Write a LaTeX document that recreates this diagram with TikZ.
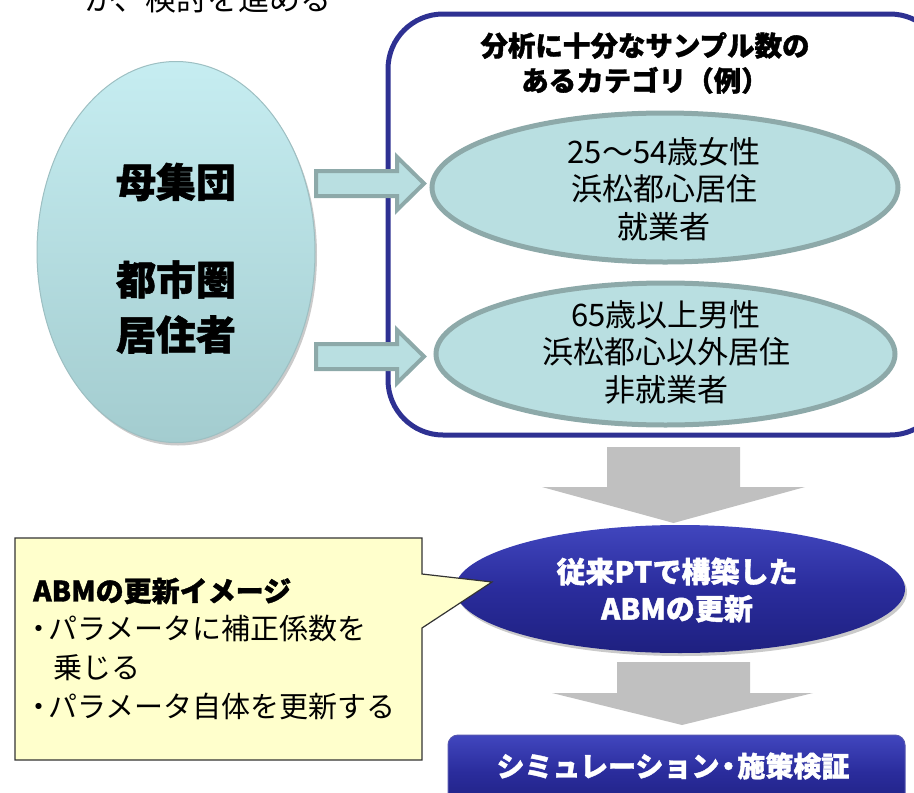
\documentclass[tikz,border=0pt]{standalone}
\usepackage{fontspec}
\setmainfont{Noto Sans CJK JP}[BoldFont={Noto Sans CJK JP Black}, BoldFeatures={FakeBold=1.3}]
\usetikzlibrary{shapes.geometric,shadows}
\definecolor{tealfill}{HTML}{B9DFE1}
\definecolor{tealline}{HTML}{8DA9A9}
\definecolor{popTop}{HTML}{C6EDF1}
\definecolor{popBot}{HTML}{A3CCCF}
\definecolor{popEdge}{HTML}{9DBFC2}
\definecolor{frameblue}{HTML}{2E3192}
\definecolor{arrowgrey}{HTML}{C0C0C0}
\definecolor{calloutfill}{HTML}{FFFFCC}
\definecolor{calloutline}{HTML}{333333}
\definecolor{blueTop}{HTML}{4146BE}
\definecolor{blueMid}{HTML}{2A2C9C}
\definecolor{blueBot}{HTML}{1E2080}
\newcommand{\nd}{\makebox[18pt][c]{・}}
\tikzset{
  catell/.style={ellipse, inner sep=0pt, fill=tealfill, draw=tealline, line width=5pt},
  blockarrow/.style={fill=tealfill, draw=tealline, line width=4pt, line join=miter},
  downarrow/.style={fill=arrowgrey, draw=none},
  bigbold/.style={font=\fontsize{40}{55}\selectfont\bfseries, align=center, inner sep=0pt},
  cattext/.style={font=\fontsize{31}{37.5}\selectfont, align=center, inner sep=0pt},
  titletext/.style={font=\fontsize{27.5}{35}\selectfont\bfseries, align=center, inner sep=0pt},
  whitebold/.style={font=\fontsize{29}{37}\selectfont\bfseries, text=white, align=center, inner sep=0pt},
  calltext/.style={font=\fontsize{29}{34}\selectfont, anchor=west, inner sep=0pt},
  softshadow/.style={drop shadow={opacity=0.35, shadow xshift=2pt, shadow yshift=-3pt, fill=black!60}},
}
\begin{document}
\begin{tikzpicture}[x=1pt,y=-1pt]
\useasboundingbox (0,0) rectangle (914,793);

% cut-off top text
\node[anchor=base, font=\fontsize{31}{37}\selectfont, inner sep=0pt] (toptext) at (208,10) {か、検討を進める};

% population ellipse
\node[ellipse, inner sep=0pt, minimum width=278pt, minimum height=381pt,
      top color=popTop, bottom color=popBot, draw=popEdge, line width=1pt, softshadow] (pop) at (176,252) {};
\node[bigbold] (popA) at (176,182) {母集団};
\node[bigbold] (popB) at (176,307) {都市圏\\居住者};

% frame
\draw[frameblue, line width=5pt, rounded corners=55pt] (388,14) rectangle (945,435);
\node[titletext] (title) at (645,63) {分析に十分なサンプル数の\\あるカテゴリ（例）};

% categories
\node[catell, minimum width=466pt, minimum height=149pt] (cat1) at (665,187.5) {};
\node[cattext] (cat1t) at (664,189) {25～54歳女性\\浜松都心居住\\就業者};
\node[catell, minimum width=459pt, minimum height=142pt] (cat2) at (665.5,354) {};
\node[cattext] (cat2t) at (666,352) {65歳以上男性\\浜松都心以外居住\\非就業者};

% block arrows
\draw[blockarrow] (316,171) -- (397,171) -- (397,157) -- (424,183.5) -- (397,210) -- (397,196) -- (316,196) -- cycle;
\draw[blockarrow] (316,344) -- (397,344) -- (397,330) -- (424,356.5) -- (397,383) -- (397,369) -- (316,369) -- cycle;

% grey down arrows
\fill[downarrow] (607,447) -- (740,447) -- (740,487) -- (805,487) -- (673.5,523) -- (542,487) -- (607,487) -- cycle;
\fill[downarrow] (617,662) -- (750,662) -- (750,693) -- (813,693) -- (682,725) -- (552,693) -- (617,693) -- cycle;

% ABM update ellipse
\node[ellipse, inner sep=0pt, minimum width=450pt, minimum height=128pt,
      top color=blueTop, bottom color=blueBot, middle color=blueMid, softshadow] (abm) at (680,589) {};
\node[whitebold] (abmt) at (677,590) {従来PTで構築した\\ABMの更新};

% callout
\draw[fill=calloutfill, draw=calloutline, line width=1.2pt, line join=miter]
  (15,538) -- (422,538) -- (422,574) -- (492,582) -- (422,628) -- (422,760) -- (15,760) -- cycle;
\node[calltext, font=\fontsize{28}{34}\selectfont\bfseries] (c1) at (33,591) {ABMの更新イメージ};
\node[calltext] (c2) at (30,629) {\nd パラメータに補正係数を};
\node[calltext] (c3) at (53,668) {乗じる};
\node[calltext] (c4) at (30,707) {\nd パラメータ自体を更新する};

% simulation box
\draw[rounded corners=10pt, top color=blueTop, bottom color=blueBot, middle color=blueMid, draw=blueMid!80!white, line width=1pt]
  (448,735) rectangle (905,810);
\node[whitebold, font=\fontsize{28}{34}\selectfont\bfseries] (sim) at (673,766) {シミュレーション\nd 施策検証};
\end{tikzpicture}
\end{document}
